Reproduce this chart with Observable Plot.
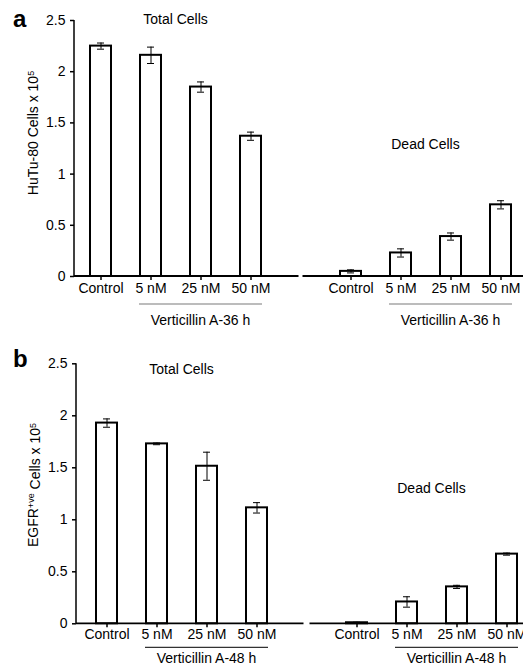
<!DOCTYPE html>
<html><head><meta charset="utf-8">
<script src="https://cdn.jsdelivr.net/npm/d3@7"></script>
<script src="https://cdn.jsdelivr.net/npm/@observablehq/plot@0.6"></script>
<style>body{margin:0;background:#fff;} svg{display:block;}</style>
</head><body><div id="chart"></div>
<script>
// ---- data ----
const doses = ["Control", "5 nM", "25 nM", "50 nM"];
const yTicks = [0, 0.5, 1, 1.5, 2, 2.5];

const aTotal = [2.25, 2.16, 1.85, 1.37];
const aTotalErr = [0.03, 0.08, 0.05, 0.04];
const aDead = [0.05, 0.23, 0.39, 0.70];
const aDeadErr = [0.015, 0.04, 0.035, 0.04];

const bTotal = [1.93, 1.73, 1.515, 1.115];
const bTotalErr = [0.04, 0.008, 0.135, 0.05];
const bDead = [0.01, 0.21, 0.355, 0.67];
const bDeadErr = [0.005, 0.05, 0.015, 0.01];

const FONT = "'Liberation Sans', Arial, Helvetica, sans-serif";

function makePanel(cfg) {
  const rows = [
    ...doses.map((d, i) => ({key: "T:" + d, v: cfg.total[i], e: cfg.totalErr[i]})),
    ...doses.map((d, i) => ({key: "D:" + d, v: cfg.dead[i], e: cfg.deadErr[i]}))
  ];
  const domain = [...doses.map(d => "T:" + d), "gap", ...doses.map(d => "D:" + d)];
  const chart = Plot.plot({
    width: 523,
    height: cfg.height,
    marginLeft: cfg.left,
    marginTop: cfg.top,
    marginBottom: cfg.height - cfg.top - cfg.plotH,
    marginRight: 0,
    style: {fontFamily: FONT, fontSize: "14px", color: "#000", background: "#fff", overflow: "visible"},
    x: {type: "band", domain, range: [cfg.left, cfg.xEnd], paddingInner: cfg.pi, paddingOuter: cfg.po, align: 0.5},
    y: {domain: [0, 2.5]},
    marks: [
      Plot.barY(rows, {x: "key", y: "v", fill: "#fff", stroke: "#000", strokeWidth: 2}),
      Plot.ruleX(rows, {x: "key", y1: d => d.v - d.e, y2: d => d.v + d.e, stroke: "#000", strokeWidth: 1}),
      Plot.tickY(rows, {x: "key", y: d => d.v - d.e, stroke: "#000", strokeWidth: 1, insetLeft: 7, insetRight: 7}),
      Plot.tickY(rows, {x: "key", y: d => d.v + d.e, stroke: "#000", strokeWidth: 1, insetLeft: 7, insetRight: 7}),
      Plot.axisY({ticks: yTicks, tickFormat: d => String(d), tickSize: 4, tickPadding: 5, fontSize: 14, label: null, strokeWidth: 1.5}),
      Plot.axisX({ticks: domain.filter(k => k !== "gap"), tickFormat: k => k.split(":")[1], tickSize: 4, tickPadding: cfg.tp, fontSize: 14, label: null, strokeWidth: 1.5})
    ]
  });

  const svg = d3.select(chart);
  const sx = chart.scale("x"), sy = chart.scale("y");
  const bw = sx.bandwidth;
  const X = k => sx.apply(k);
  const Y = v => sy.apply(v);
  const y0 = Y(0);
  const gx = X("gap") + bw / 2;

  // axes lines
  svg.append("line").attr("x1", cfg.left).attr("x2", gx - cfg.gapHalf).attr("y1", y0).attr("y2", y0)
    .attr("stroke", "#000").attr("stroke-width", 1.8);
  svg.append("line").attr("x1", gx + cfg.gapHalf).attr("x2", 540).attr("y1", y0).attr("y2", y0)
    .attr("stroke", "#000").attr("stroke-width", 1.8);
  svg.append("line").attr("x1", cfg.left).attr("x2", cfg.left).attr("y1", y0).attr("y2", Y(2.5))
    .attr("stroke", "#000").attr("stroke-width", 1.5);

  const txt = (x, y, s, opts = {}) => svg.append("text").attr("x", x).attr("y", y)
    .attr("text-anchor", opts.anchor || "middle").attr("font-family", FONT)
    .attr("font-size", opts.size || 14).attr("font-weight", opts.weight || "normal")
    .attr("fill", "#000").text(s);

  for (const g of ["T", "D"]) {
    const x1 = X(g + ":5 nM") - 1, x2 = X(g + ":50 nM") + bw + 1;
    svg.append("line").attr("x1", x1).attr("x2", x2).attr("y1", cfg.bracketY).attr("y2", cfg.bracketY)
      .attr("stroke", cfg.bracketColor).attr("stroke-width", 1.2);
    txt((x1 + x2) / 2, cfg.treatY, cfg.treatLabel);
  }
  // titles
  const mid = g => (X(g + ":5 nM") + X(g + ":25 nM")) / 2 + bw / 2;
  txt(mid("T"), cfg.totalTitleY, "Total Cells");
  txt(mid("D"), cfg.deadTitleY, "Dead Cells");
  // panel letter
  txt(13, cfg.letterY, cfg.letter, {anchor: "start", size: 24, weight: "bold"});
  // y label with superscripts
  const yl = svg.append("text").attr("transform", `translate(${cfg.ylabX},${cfg.ylabY}) rotate(-90)`)
    .attr("text-anchor", "middle").attr("dy", "0.35em").attr("font-family", FONT).attr("font-size", 14).attr("fill", "#000");
  for (const [s, sup] of cfg.ylabParts) {
    if (sup) yl.append("tspan").attr("dy", "-0.45em").attr("font-size", 9).text(s);
    else yl.append("tspan").attr("dy", cfg._prevSup ? "0.45em" : null).text(s);
    cfg._prevSup = sup;
  }
  return chart;
}

const root = document.getElementById("chart");
root.append(makePanel({
  total: aTotal, totalErr: aTotalErr, dead: aDead, deadErr: aDeadErr,
  height: 330, top: 20, plotH: 256, left: 74, xEnd: 527, pi: 0.58, po: 0.31, tp: 3, gapHalf: 2,
  bracketY: 304, bracketColor: "#7a7a7a", treatY: 325, treatLabel: "Verticillin A-36 h",
  totalTitleY: 24, deadTitleY: 149, letter: "a", letterY: 27, ylabX: 33, ylabY: 133,
  ylabParts: [["HuTu-80 Cells x 10", false], ["5", true]]
}));
root.append(makePanel({
  total: bTotal, totalErr: bTotalErr, dead: bDead, deadErr: bDeadErr,
  height: 337, top: 33.3, plotH: 260, left: 76, xEnd: 536, pi: 0.59, po: 0.33, tp: 1, gapHalf: 3,
  bracketY: 317.3, bracketColor: "#333", treatY: 333, treatLabel: "Verticillin A-48 h",
  totalTitleY: 44, deadTitleY: 163, letter: "b", letterY: 37, ylabX: 33, ylabY: 155,
  ylabParts: [["EGFR", false], ["+ve", true], [" Cells x 10", false], ["5", true]]
}));
</script>
</body></html>
